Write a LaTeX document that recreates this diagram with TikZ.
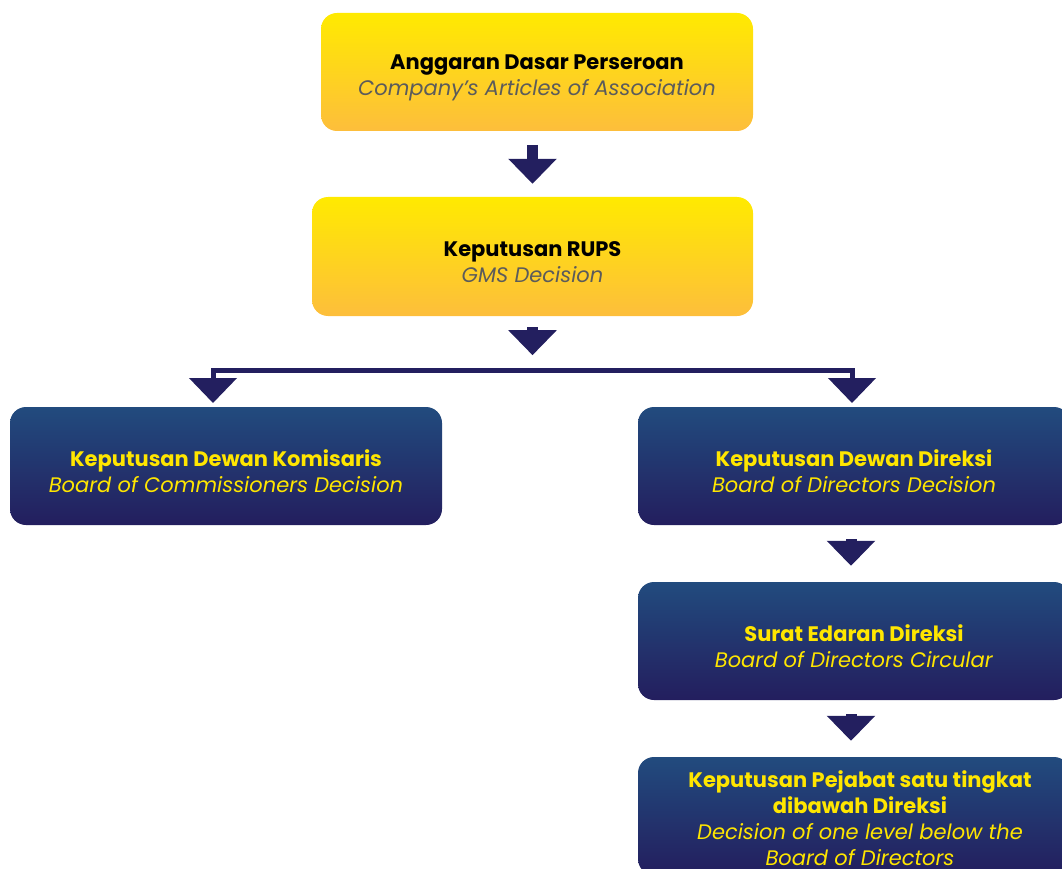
\documentclass[tikz,border=0pt]{standalone}
\usepackage{fontspec}
\setmainfont{Poppins}
\usetikzlibrary{arrows.meta,calc}
\definecolor{ytop}{HTML}{FFEA00}
\definecolor{ybot}{HTML}{FDBE3C}
\definecolor{btop}{HTML}{224B7E}
\definecolor{bbot}{HTML}{231E5E}
\definecolor{navy}{HTML}{231F5F}
\definecolor{ttl}{HTML}{FFE600}
\definecolor{subc}{HTML}{5B5B5B}
\newcommand\tstrut{\rule{0pt}{27pt}}
\begin{document}
\begin{tikzpicture}[x=1pt,y=-1pt,
  boxtext/.style={align=center, inner sep=0pt, font=\fontsize{21}{26}\selectfont},
  box/.style={boxtext, rounded corners=16pt, minimum width=432pt, minimum height=118pt},
  ybox/.style={box, top color=ytop, bottom color=ybot, text=black},
  bbox/.style={box, top color=btop, bottom color=bbot, text=ttl},
  conn/.style={navy, line width=11pt, -{Triangle[width=47pt,length=25pt]}},
  ]
\useasboundingbox (0,0) rectangle (1062,869);
\node[ybox] (b1) at (537,72) {\tstrut\textbf{Anggaran Dasar Perseroan}\\\textcolor{subc}{\textit{Company’s Articles of Association}}};
\node[ybox, minimum width=441pt, minimum height=119pt] (b2) at (532.5,256.5) {\tstrut\textbf{Keputusan RUPS}\\\textcolor{subc}{\textit{GMS Decision}}};
\node[bbox] (b3) at (226,466) {\tstrut\textbf{Keputusan Dewan Komisaris}\\\textit{Board of Commissioners Decision}};
\node[bbox] (b4) at (854,466) {\tstrut\textbf{Keputusan Dewan Direksi}\\\textit{Board of Directors Decision}};
\node[bbox] (b5) at (854,641) {\tstrut\textbf{Surat Edaran Direksi}\\\textit{Board of Directors Circular}};
\node[bbox] (b6) at (854,816) {};
\node[boxtext, text=ttl] (t6) at (860,818) {\textbf{Keputusan Pejabat satu tingkat}\\\textbf{dibawah Direksi}\\\textit{Decision of one level below the}\\\textit{Board of Directors}};
\draw[conn] ($(b2.north)+(0,-52)$) -- ($(b2.north)+(0,-13)$);
\draw[conn] ($(b2.south)+(0,11)$) -- ($(b2.south)+(0,39)$);
\coordinate (jl) at (213,370);
\coordinate (jr) at (852,370);
\draw[navy, line width=5pt, line join=miter, {Triangle[width=47pt,length=25pt]}-{Triangle[width=47pt,length=25pt]}] ($(jl)+(0,33)$) -- (jl) -- (jr) -- ($(jr)+(0,33)$);
\draw[conn] ($(b4.south)+(-3,14)$) -- ($(b5.north)+(-3,-16)$);
\draw[conn] ($(b5.south)+(-3,14)$) -- ($(b6.north)+(-3,-16)$);
\end{tikzpicture}
\end{document}
